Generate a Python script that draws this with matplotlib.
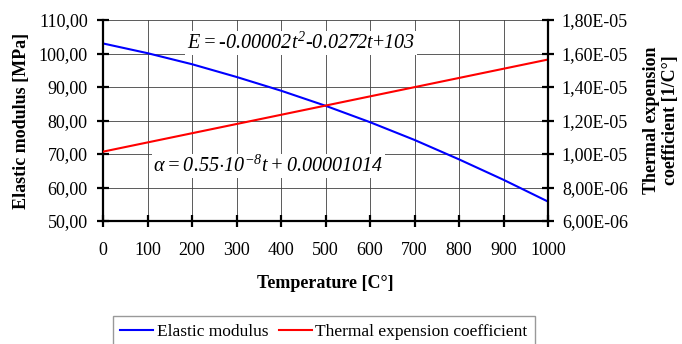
#!/usr/bin/env python
# -*- coding: utf-8 -*-
import sys
import matplotlib
matplotlib.use("Agg")
import matplotlib.pyplot as plt
from matplotlib.ticker import FuncFormatter, MultipleLocator

# Data
temperature = [0, 100, 200, 300, 400, 500, 600, 700, 800, 900, 1000]
elastic_modulus = [103.0, 100.1, 96.8, 93.0, 88.9, 84.4, 79.5, 74.2, 68.4, 62.3, 55.8]
thermal_coef = [1.014e-5, 1.069e-5, 1.124e-5, 1.179e-5, 1.234e-5, 1.289e-5,
                1.344e-5, 1.399e-5, 1.454e-5, 1.509e-5, 1.564e-5]


def comma_fmt(v, pos):
  return ("%.2f" % v).replace(".", ",")


def sci_fmt(v, pos):
  return ("%.2E" % v).replace(".", ",")


def main():
  plt.rcParams['font.family'] = ['Liberation Serif', 'DejaVu Serif']
  plt.rcParams['mathtext.fontset'] = 'custom'
  plt.rcParams['mathtext.rm'] = 'Liberation Serif:italic'
  plt.rcParams['mathtext.it'] = 'Liberation Serif:italic'

  fig = plt.figure(figsize=(6.82, 3.44), dpi=100)
  ax = fig.add_axes([103 / 682, 1 - 221 / 344, 445 / 682, 201 / 344])
  ax2 = ax.twinx()

  l1, = ax.plot(temperature, elastic_modulus, color="#0000ff", lw=1.5, label="Elastic modulus")
  l2, = ax2.plot(temperature, thermal_coef, color="#ff0000", lw=1.5, label="Thermal expension coefficient")

  ax.set_xlim(0, 1000)
  ax.set_ylim(50, 110)
  ax2.set_ylim(6e-6, 1.8e-5)
  ax.xaxis.set_major_locator(MultipleLocator(100))
  ax.yaxis.set_major_locator(MultipleLocator(10))
  ax2.yaxis.set_major_locator(MultipleLocator(2e-6))
  ax.yaxis.set_major_formatter(FuncFormatter(comma_fmt))
  ax2.yaxis.set_major_formatter(FuncFormatter(sci_fmt))

  ax.grid(True, color="#404040", lw=0.6)
  ax.set_axisbelow(True)
  for a in (ax, ax2):
    for s in a.spines.values():
      s.set_visible(False)
  ax.spines['left'].set_visible(True)
  ax.spines['bottom'].set_visible(True)
  ax2.spines['right'].set_visible(True)
  for s in (ax.spines['left'], ax.spines['bottom'], ax2.spines['right']):
    s.set_linewidth(1.6)
  ax.tick_params(direction="inout", length=8, width=1.6, labelsize=13)
  ax.tick_params(axis="y", pad=7)
  ax.tick_params(axis="x", pad=11)
  ax2.tick_params(direction="inout", length=8, width=1.6, labelsize=13, pad=6)

  ax.set_xlabel("Temperature [C°]", fontsize=13, fontweight="bold", labelpad=12)
  ax.set_ylabel("Elastic modulus [MPa]", fontsize=13, fontweight="bold", labelpad=6)
  ax2.set_ylabel("Thermal expension\ncoefficient [1/C°]", fontsize=13, fontweight="bold",
                 labelpad=11, linespacing=1.15)

  # equation labels (white boxes cover the grid)
  ax.text(445, 103.2, r"$E = $-$0.00002t^{2}$-$0.0272t$+$103$", ha="center", va="center",
          fontsize=14.5, bbox=dict(facecolor="white", edgecolor="none", pad=1))
  ax.text(371, 66.4, r"$\alpha = 0.55{\cdot}10^{-8}t + 0.00001014$", ha="center", va="center",
          fontsize=14.5, bbox=dict(facecolor="white", edgecolor="none", pad=1))

  leg = fig.legend([l1, l2], [l1.get_label(), l2.get_label()], ncol=2,
                   loc="upper center", bbox_to_anchor=(324 / 682, 1 - 316 / 344),
                   fontsize=12.5, frameon=True, fancybox=False, edgecolor="#808080",
                   handlelength=1.9, columnspacing=0.6, handletextpad=0.2,
                   borderpad=0.45, borderaxespad=0.0)
  leg.get_frame().set_linewidth(1.0)

  plt.savefig("out.png", dpi=100)


if __name__ == "__main__":
  sys.exit(main())
